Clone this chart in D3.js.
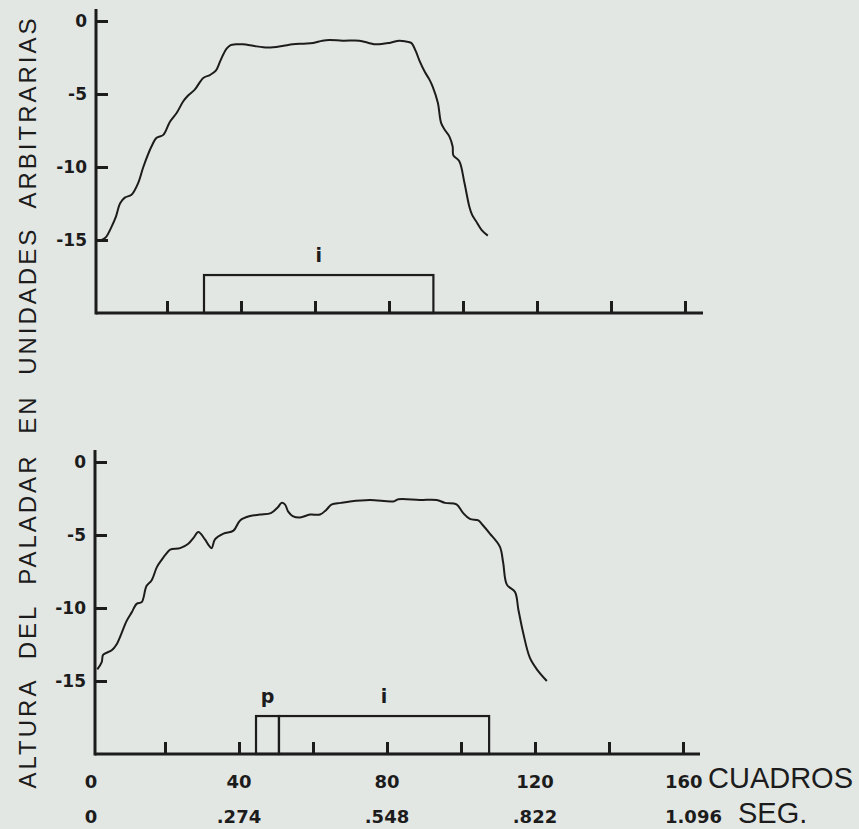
<!DOCTYPE html>
<html>
<head>
<meta charset="utf-8">
<script src="https://cdn.jsdelivr.net/npm/d3@7"></script>
<style>
  html, body { margin: 0; padding: 0; background: #e3e7e4; }
  svg { display: block; }
</style>
</head>
<body>
<svg id="board" width="859" height="829"></svg>
<script>
// curve of the upper panel (frame number, palate height)
let topX = [2.4, 3.5, 5.0, 6.2, 7.3, 8.6, 10.4, 12.2, 13.6, 15.8, 17.2, 19.0, 20.8, 22.6, 24.4, 25.7, 27.5,
  29.8, 31.6, 33.2, 34.3, 35.2, 36.1, 37.2, 38.5, 40.5, 43.3, 46.0, 48.7, 51.5, 54.0, 57.0, 59.5, 62.0,
  63.9, 67.5, 72.0, 74.5, 76.6, 80.1, 82.8, 84.5, 86.0, 87.3, 88.2, 89.7, 90.9, 91.8, 93.2, 94.1, 95.2,
  96.3, 97.2, 97.4, 99.0, 100.4, 101.7, 102.5, 103.5, 105.0, 106.7]
let topY = [-15.0, -14.8, -14.1, -13.4, -12.5, -12.1, -11.9, -11.1, -10.0, -8.6, -8.0, -7.8, -6.9, -6.3, -5.5, -5.1, -4.7,
  -3.9, -3.7, -3.4, -2.8, -2.3, -1.9, -1.65, -1.6, -1.6, -1.7, -1.8, -1.8, -1.7, -1.6, -1.55, -1.5, -1.35,
  -1.3, -1.35, -1.35, -1.5, -1.6, -1.5, -1.35, -1.4, -1.5, -2.1, -2.7, -3.5, -4.0, -4.5, -5.6, -7.0, -7.5,
  -7.9, -8.6, -9.2, -9.6, -11.1, -12.7, -13.3, -13.7, -14.3, -14.7]

// curve of the lower panel
let bottomX = [1.7, 2.9, 3.3, 5.6, 6.9, 8.3, 9.6, 11.0, 12.4, 13.7, 15.0, 16.4, 17.8, 19.1, 20.3, 21.4, 24.1,
  26.3, 27.7, 29.0, 30.8, 31.8, 32.6, 33.5, 35.8, 38.5, 40.3, 43.0, 45.7, 48.6, 50.5, 51.5, 52.4, 53.3,
  54.5, 56.5, 59.2, 61.9, 63.5, 65.1, 67.5, 70.0, 75.4, 81.7, 83.1, 88.9, 93.4, 95.7, 98.8, 100.6, 102.4,
  104.7, 105.8, 107.8, 110.5, 111.4, 112.4, 114.6, 115.5, 116.8, 118.6, 120.5, 123.2]
let bottomY = [-14.2, -13.7, -13.2, -12.9, -12.5, -11.7, -10.9, -10.3, -9.7, -9.6, -8.5, -8.1, -7.2, -6.7, -6.3, -6.0, -5.9,
  -5.6, -5.2, -4.8, -5.3, -5.7, -5.9, -5.3, -4.9, -4.7, -4.0, -3.7, -3.6, -3.5, -3.1, -2.8, -2.9, -3.4,
  -3.7, -3.8, -3.6, -3.6, -3.3, -2.9, -2.8, -2.7, -2.6, -2.7, -2.55, -2.6, -2.6, -2.8, -2.9, -3.5, -3.9,
  -4.0, -4.3, -4.9, -5.8, -6.9, -8.4, -8.9, -10.1, -11.7, -13.4, -14.2, -15.0]

// segment boxes: [label, start, end]
let topSegments = [['i', 30, 92]]
let bottomSegments = [['p', 44.6, 50.8], ['i', 50.8, 107.6]]
let segmentTop = -17.4

// ticks and labels
let yTicks = [0, -5, -10, -15]
let xTicks = [20, 40, 60, 80, 100, 120, 140, 160]
let frameTicks = [0, 40, 80, 120, 160]
let frameLabels = ['0', '40', '80', '120', '160']
let secondLabels = ['0', '.274', '.548', '.822', '1.096']

let board = d3.select('#board')
let ink = '#1c1c1c'
let numFont = '"DejaVu Sans", sans-serif'
let textFont = '"Liberation Sans", Arial, sans-serif'

let drawPanel = (cfg) => {
    let x = d3.scaleLinear().domain([0, 160]).range([cfg.x0, cfg.x0 + 592])
    let y = d3.scaleLinear().domain([-20, 0]).range([cfg.y0 + 292, cfg.y0])
    let g = board.append('g')

    // y axis line, ticks pointing inward
    g.append('line')
        .attr('x1', cfg.axisX).attr('x2', cfg.axisX)
        .attr('y1', cfg.y0 - 12).attr('y2', y(-20) + 1.5)
        .attr('stroke', ink).attr('stroke-width', 3)

    let yAxis = g.append('g')
        .attr('transform', 'translate(' + cfg.axisX + ',0)')
        .call(d3.axisLeft(y).tickValues(yTicks).tickSizeInner(-12).tickSizeOuter(0).tickPadding(9)
            .tickFormat((d) => String(d)))
    yAxis.select('.domain').remove()
    yAxis.selectAll('line').attr('stroke', ink).attr('stroke-width', 3)
    yAxis.selectAll('text')
        .attr('fill', ink)
        .attr('font-weight', 'bold')
        .style('font-family', numFont).style('font-weight', 'bold').style('font-size', '17px')

    // x axis baseline, ticks pointing up
    g.append('line')
        .attr('x1', cfg.axisX).attr('x2', cfg.axisEnd)
        .attr('y1', y(-20)).attr('y2', y(-20))
        .attr('stroke', ink).attr('stroke-width', 3)

    let xAxis = g.append('g')
        .attr('transform', 'translate(0,' + y(-20) + ')')
        .call(d3.axisBottom(x).tickValues(xTicks).tickSizeInner(-12).tickSizeOuter(0).tickFormat(''))
    xAxis.select('.domain').remove()
    xAxis.selectAll('line').attr('stroke', ink).attr('stroke-width', 3)

    // segment boxes
    g.selectAll('rect.seg')
        .data(cfg.segments)
        .enter()
        .append('rect')
        .attr('class', 'seg')
        .attr('x', (d) => x(d[1]))
        .attr('y', y(segmentTop))
        .attr('width', (d) => x(d[2]) - x(d[1]))
        .attr('height', y(-20) - y(segmentTop))
        .attr('fill', 'none').attr('stroke', ink).attr('stroke-width', 2.2)

    g.selectAll('text.seg')
        .data(cfg.segments)
        .enter()
        .append('text')
        .attr('class', 'seg')
        .attr('x', (d) => x((d[1] + d[2]) / 2))
        .attr('y', y(segmentTop) - 13)
        .attr('text-anchor', 'middle')
        .attr('fill', ink)
        .style('font-family', numFont).style('font-weight', 'bold').style('font-size', '19px')
        .text((d) => d[0])

    // palate height curve
    let pts = cfg.xs.map((v, i) => [v, cfg.ys[i]])
    g.append('path')
        .datum(pts)
        .attr('d', d3.line().x((d) => x(d[0])).y((d) => y(d[1])).curve(d3.curveCatmullRom))
        .attr('fill', 'none').attr('stroke', ink).attr('stroke-width', 2)
        .attr('stroke-linejoin', 'round')

    return x
}

drawPanel({ x0: 93, y0: 21, axisX: 96, axisEnd: 703, xs: topX, ys: topY, segments: topSegments })
let xBottom = drawPanel({ x0: 91, y0: 462, axisX: 95, axisEnd: 700, xs: bottomX, ys: bottomY, segments: bottomSegments })

// two rows of x labels below the lower panel
let labelRow = (labels, baseline) => {
    board.append('g')
        .selectAll('text')
        .data(frameTicks)
        .enter()
        .append('text')
        .attr('x', (d, i) => i === frameTicks.length - 1 ? xBottom(d) - 18 : xBottom(d))
        .attr('y', baseline)
        .attr('text-anchor', (d, i) => i === frameTicks.length - 1 ? 'start' : 'middle')
        .attr('fill', ink)
        .style('font-family', numFont).style('font-weight', 'bold').style('font-size', '18px')
        .text((d, i) => labels[i])
}
labelRow(frameLabels, 788)
labelRow(secondLabels, 823)

board.append('text')
    .attr('x', 708).attr('y', 788)
    .attr('fill', ink)
    .style('font-family', textFont).style('font-size', '29px')
    .text('CUADROS')

board.append('text')
    .attr('x', 738).attr('y', 823)
    .attr('fill', ink)
    .style('font-family', textFont).style('font-size', '29px')
    .text('SEG.')

// vertical axis title
board.append('text')
    .attr('transform', 'translate(36,402) rotate(-90)')
    .attr('text-anchor', 'middle')
    .attr('fill', ink)
    .style('font-family', textFont).style('font-size', '24px')
    .style('letter-spacing', '3px').style('word-spacing', '10px')
    .text('ALTURA DEL PALADAR EN UNIDADES ARBITRARIAS')
</script>
</body>
</html>
